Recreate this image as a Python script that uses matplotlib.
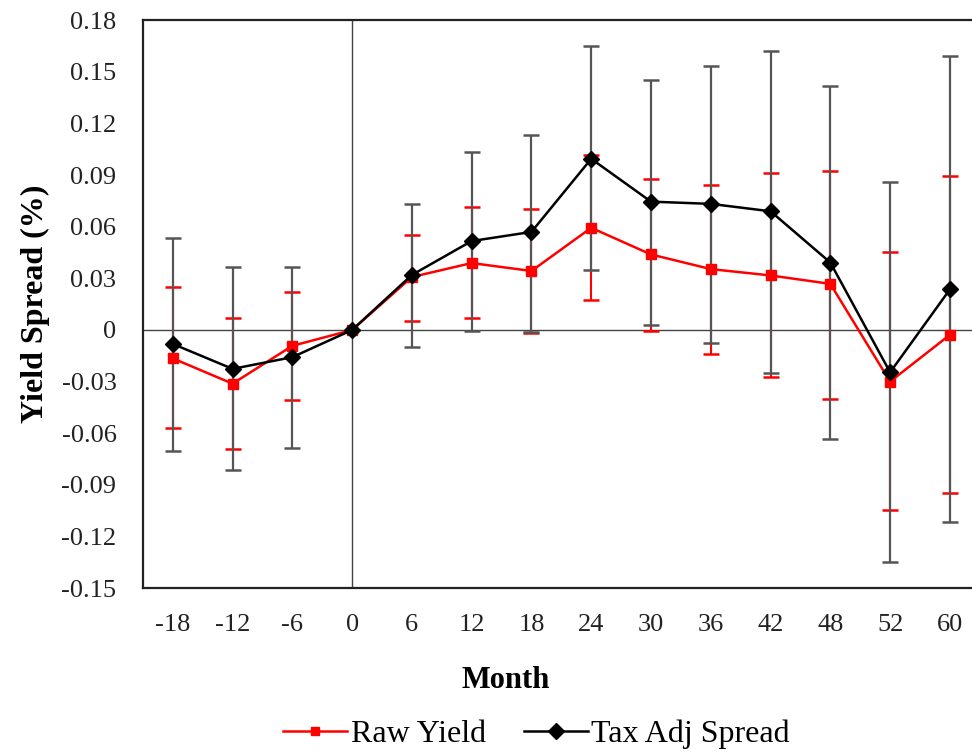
import matplotlib
matplotlib.use("Agg")
import matplotlib.pyplot as plt
import numpy as np

# ---- data --------------------------------------------------------------
months = ["-18", "-12", "-6", "0", "6", "12", "18", "24", "30", "36", "42", "48", "52", "60"]

raw_yield = [-0.0165, -0.0312, -0.0092, 0.0, 0.0308, 0.0389, 0.0343, 0.0594,
             0.0439, 0.0354, 0.0317, 0.0268, -0.0300, -0.0028]
raw_hi = [0.0251, 0.0067, 0.0220, np.nan, 0.0553, 0.0715, 0.0706, 0.1018,
          0.0876, 0.0842, 0.0915, 0.0923, 0.0456, 0.0894]
raw_lo = [-0.0569, -0.0694, -0.0409, np.nan, 0.0054, 0.0067, -0.0019, 0.0175,
          -0.0005, -0.0139, -0.0272, -0.0401, -0.1046, -0.0949]

tax_adj = [-0.0081, -0.0226, -0.0158, 0.0, 0.0320, 0.0517, 0.0570, 0.0995,
           0.0746, 0.0733, 0.0690, 0.0392, -0.0246, 0.0236]
tax_hi = [0.0536, 0.0366, 0.0366, np.nan, 0.0733, 0.1037, 0.1134, 0.1648,
          0.1453, 0.1532, 0.1622, 0.1416, 0.0861, 0.1590]
tax_lo = [-0.0702, -0.0814, -0.0684, np.nan, -0.0100, -0.0008, -0.0010, 0.0347,
          0.0028, -0.0075, -0.0251, -0.0632, -0.1350, -0.1114]

y_ticks = [-0.15, -0.12, -0.09, -0.06, -0.03, 0, 0.03, 0.06, 0.09, 0.12, 0.15, 0.18]

plt.rcParams["font.family"] = ["Liberation Serif", "DejaVu Serif"]

x = np.arange(len(months))


def asym_err(vals, hi, lo):
    vals, hi, lo = map(np.asarray, (vals, hi, lo))
    return np.vstack([vals - lo, hi - vals])


fig = plt.figure(figsize=(9.72, 7.52), dpi=100)
ax = fig.add_axes([0.147, 0.218, 0.861, 0.755])

# ---- reference lines
ax.axhline(0, color="#444444", lw=1.0, zorder=1)
ax.axvline(months.index("0"), color="#444444", lw=1.0, zorder=1)

# ---- error bars (red below, grey above)
ax.errorbar(x, raw_yield, yerr=asym_err(raw_yield, raw_hi, raw_lo), fmt="none",
            ecolor="#ff0000", elinewidth=1.5, capsize=6, capthick=1.8, zorder=2)
ax.errorbar(x, tax_adj, yerr=asym_err(tax_adj, tax_hi, tax_lo), fmt="none",
            ecolor="#555555", elinewidth=1.6, capsize=6, capthick=1.8, zorder=3)

# ---- series lines
ax.plot(x, raw_yield, color="#ff0000", lw=1.8, marker="s", ms=7,
        label="Raw Yield", zorder=4)
ax.plot(x, tax_adj, color="black", lw=1.8, marker="D", ms=8,
        label="Tax Adj Spread", zorder=5)

ax.set_xlim(-0.5, len(months) - 0.5)
ax.set_ylim(-0.15, 0.18)
ax.set_xticks(x)
ax.set_xticklabels(months)
ax.set_yticks(y_ticks)
ax.set_yticklabels(["0" if v == 0 else f"{v:.2f}" for v in y_ticks])
ax.tick_params(length=0, labelsize=19, colors="#222222")
ax.tick_params(axis="y", pad=19)
ax.tick_params(axis="x", pad=19)

for s in ax.spines.values():
    s.set_linewidth(1.6)
    s.set_color("#222222")

ax.set_xlabel("Month", fontsize=22, fontweight="bold")
ax.xaxis.set_label_coords(0.434, -0.137)
ax.set_ylabel("Yield Spread (%)", fontsize=23, fontweight="bold", labelpad=8)

leg = ax.legend(loc="center", bbox_to_anchor=(0.552, 0.024), bbox_transform=fig.transFigure,
                ncol=2, frameon=False, fontsize=23, handlelength=2.0, columnspacing=1.2,
                handletextpad=0.1, borderaxespad=0.0, borderpad=0.0)
for h in leg.legend_handles:
    h.set_markersize(6 if h.get_marker() == "s" else 8)

fig.savefig("out.png", dpi=100)
